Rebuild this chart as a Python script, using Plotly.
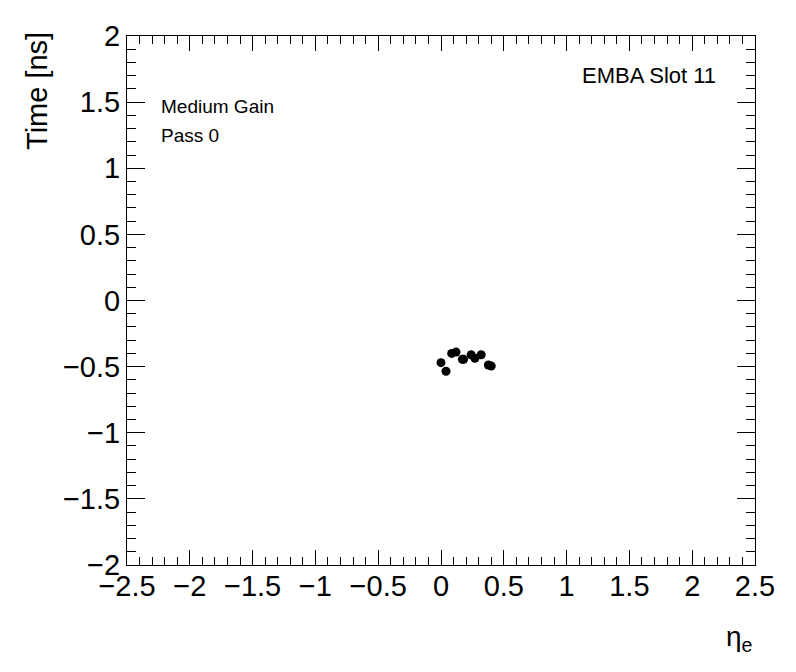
import plotly.graph_objects as go

eta = [0.00, 0.04, 0.085, 0.12, 0.17, 0.18, 0.24, 0.27, 0.32, 0.377, 0.40]
time_ns = [-0.47, -0.535, -0.40, -0.39, -0.445, -0.445, -0.41, -0.437, -0.41, -0.488, -0.495]

x_ticks = [-2.5, -2, -1.5, -1, -0.5, 0, 0.5, 1, 1.5, 2, 2.5]
y_ticks = [-2, -1.5, -1, -0.5, 0, 0.5, 1, 1.5, 2]

def lab(v):
    s = ("%g" % v)
    return s.replace("-", "\u2212")

font = "Liberation Sans, Arial, Helvetica, sans-serif"

fig = go.Figure()
fig.add_trace(go.Scatter(x=eta, y=time_ns, mode="markers",
                         marker=dict(color="black", size=9, line=dict(width=0)),
                         showlegend=False, cliponaxis=False))

axis_common = dict(showgrid=False, zeroline=False, showline=True, linecolor="black",
                   linewidth=1, mirror="ticks", ticks="inside", tickcolor="black",
                   tickwidth=1,
                   tickfont=dict(family=font, size=29, color="black"))

# plot area in page pixels: x 127..755, y 36..565 (page has an 8px body margin)
fig.update_layout(
    width=788, height=664,
    margin=dict(l=119, r=41, t=28, b=107),
    plot_bgcolor="white", paper_bgcolor="white",
    xaxis=dict(range=[-2.5, 2.5], tickvals=x_ticks, ticktext=[lab(v) for v in x_ticks],
               ticklen=15, ticklabelstandoff=-5,
               minor=dict(dtick=0.1, ticklen=8, ticks="inside", tickcolor="black"),
               **axis_common),
    yaxis=dict(range=[-2, 2], tickvals=y_ticks, ticktext=[lab(v) for v in y_ticks],
               ticklen=18, minor=dict(dtick=0.1, ticklen=9, ticks="inside", tickcolor="black"),
               **axis_common),
    annotations=[
        dict(text="Medium Gain", x=(159 - 127) / 628, y=(565 - 107) / 529, xref="paper", yref="paper",
             xanchor="left", yanchor="middle", showarrow=False,
             font=dict(family=font, size=19, color="black")),
        dict(text="Pass 0", x=(159 - 127) / 628, y=(565 - 135) / 529, xref="paper", yref="paper",
             xanchor="left", yanchor="middle", showarrow=False,
             font=dict(family=font, size=19, color="black")),
        dict(text="EMBA Slot 11", x=(718 - 127) / 628, y=(565 - 75) / 529, xref="paper", yref="paper",
             xanchor="right", yanchor="middle", showarrow=False,
             font=dict(family=font, size=22, color="black")),
        dict(text="\u03b7<sub>e</sub>", x=1.0, y=(565 - 638) / 529, xref="paper", yref="paper",
             xanchor="right", yanchor="middle", showarrow=False,
             font=dict(family=font, size=28, color="black")),
        dict(text="Time [ns]", x=(37 - 127) / 628, y=(565 - 30) / 529, xref="paper", yref="paper",
             xanchor="center", yanchor="top", textangle=-90, showarrow=False,
             font=dict(family=font, size=29, color="black")),
    ],
)

fig.write_html("out.html")
